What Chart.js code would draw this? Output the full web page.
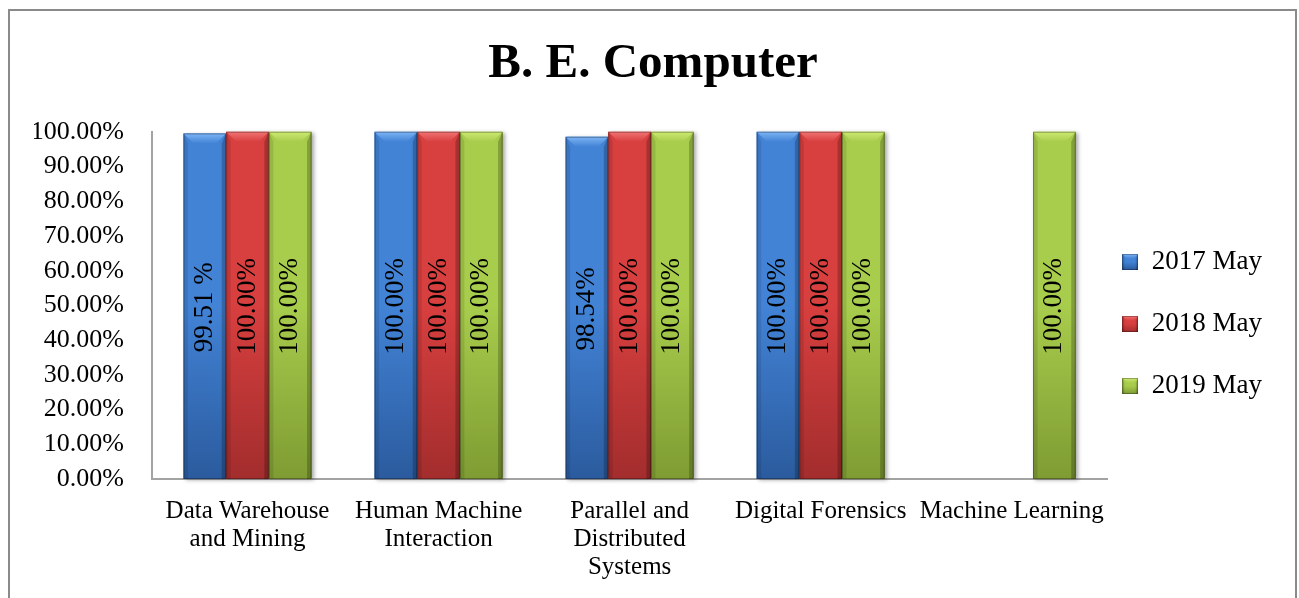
<!DOCTYPE html>
<html>
<head>
<meta charset="utf-8">
<script src="https://cdn.jsdelivr.net/npm/chart.js@4"></script>
<style>
  body { margin: 0; background: #fff; }
</style>
</head>
<body>
<canvas id="chart" width="1299" height="598"></canvas>
<script>
const subjects = [
    ['Data Warehouse', 'and Mining'],
    ['Human Machine', 'Interaction'],
    ['Parallel and', 'Distributed', 'Systems'],
    'Digital Forensics',
    'Machine Learning'
];
const seriesNames = ['2017 May', '2018 May', '2019 May'];

const may2017 = [99.51, 100, 98.54, 100, null];
const may2018 = [100, 100, 100, 100, null];
const may2019 = [100, 100, 100, 100, 100];

// text printed inside the bars
const labels2017 = ['99.51 %', '100.00%', '98.54%', '100.00%', null];
const labels2018 = ['100.00%', '100.00%', '100.00%', '100.00%', null];
const labels2019 = ['100.00%', '100.00%', '100.00%', '100.00%', '100.00%'];

const palette = [
    { main: '#4283d6', light: '#7db4f4', dark: '#2b5b9e' },
    { main: '#d83f3f', light: '#f27474', dark: '#a32d2d' },
    { main: '#a8cc4c', light: '#cdea74', dark: '#7e9c33' }
];

const FONT = "'Liberation Serif', 'Times New Roman', serif";

// 3d-ish bevel like the office chart
function drawBevel(ctx, x, width, top, base, pal, bv, shadow) {
    const l = x - width / 2, r = x + width / 2, t = top, b = base;
    const side = Math.max(2, bv * 0.45);
    ctx.save();
    if (shadow) {
        ctx.shadowColor = 'rgba(0,0,0,0.35)';
        ctx.shadowBlur = 4;
        ctx.shadowOffsetX = 2;
        ctx.shadowOffsetY = 1;
    }
    let g = ctx.createLinearGradient(0, t, 0, b);
    g.addColorStop(0, pal.main);
    g.addColorStop(0.5, pal.main);
    g.addColorStop(1, pal.dark);
    ctx.fillStyle = g;
    ctx.fillRect(l, t, width, b - t);
    ctx.restore();

    ctx.save();
    // left side
    ctx.fillStyle = 'rgba(0,0,0,0.10)';
    ctx.beginPath();
    ctx.moveTo(l, t); ctx.lineTo(l + side, t + bv); ctx.lineTo(l + side, b); ctx.lineTo(l, b);
    ctx.closePath(); ctx.fill();
    // right side
    ctx.fillStyle = 'rgba(0,0,0,0.22)';
    ctx.beginPath();
    ctx.moveTo(r, t); ctx.lineTo(r - side, t + bv); ctx.lineTo(r - side, b); ctx.lineTo(r, b);
    ctx.closePath(); ctx.fill();
    // top
    let g2 = ctx.createLinearGradient(0, t, 0, t + bv);
    g2.addColorStop(0, pal.light);
    g2.addColorStop(1, pal.main);
    ctx.fillStyle = g2;
    ctx.beginPath();
    ctx.moveTo(l, t); ctx.lineTo(r, t); ctx.lineTo(r - bv, t + bv); ctx.lineTo(l + bv, t + bv);
    ctx.closePath(); ctx.fill();
    // outline
    ctx.strokeStyle = 'rgba(0,0,0,0.30)';
    ctx.lineWidth = 1;
    ctx.strokeRect(l + 0.5, t + 0.5, width - 1, b - t - 1);
    ctx.restore();
}

const legendIcons = palette.map(p => {
    const c = document.createElement('canvas');
    c.width = 16; c.height = 16;
    drawBevel(c.getContext('2d'), 8, 16, 0, 16, p, 5, false);
    return c;
});

const frame = {
    id: 'frame',
    beforeDraw(chart) {
        const ctx = chart.ctx;
        ctx.save();
        ctx.fillStyle = '#fff';
        ctx.fillRect(0, 0, chart.width, chart.height);
        ctx.strokeStyle = '#8a8a8a';
        ctx.lineWidth = 2;
        ctx.strokeRect(9, 10, 1287, 700);
        ctx.restore();
    }
};

const barLook = {
    id: 'barLook',
    afterDatasetsDraw(chart) {
        const ctx = chart.ctx;
        const texts = [labels2017, labels2018, labels2019];
        chart.data.datasets.forEach((ds, i) => {
            chart.getDatasetMeta(i).data.forEach((bar, j) => {
                if (ds.data[j] == null) return;
                drawBevel(ctx, bar.x, bar.width, bar.y, bar.base, palette[i], 10, true);
            });
        });
        chart.data.datasets.forEach((ds, i) => {
            chart.getDatasetMeta(i).data.forEach((bar, j) => {
                const txt = texts[i][j];
                if (ds.data[j] == null || !txt) return;
                ctx.save();
                ctx.translate(bar.x, (bar.y + bar.base) / 2 + 1);
                ctx.rotate(-Math.PI / 2);
                ctx.font = '27px ' + FONT;
                ctx.fillStyle = '#000';
                ctx.textAlign = 'center';
                ctx.textBaseline = 'middle';
                ctx.fillText(txt, 0, 0);
                ctx.restore();
            });
        });
    }
};

Chart.defaults.font.family = FONT;
Chart.defaults.color = '#000';

new Chart(document.getElementById('chart'), {
    type: 'bar',
    data: {
        labels: subjects,
        datasets: [
            { label: seriesNames[0], data: may2017, backgroundColor: palette[0].main },
            { label: seriesNames[1], data: may2018, backgroundColor: palette[1].main },
            { label: seriesNames[2], data: may2019, backgroundColor: palette[2].main }
        ]
    },
    options: {
        responsive: false,
        devicePixelRatio: 1,
        animation: false,
        categoryPercentage: 0.67,
        barPercentage: 1,
        layout: { padding: { left: 34, right: 27, top: 0, bottom: 0 } },
        scales: {
            x: {
                grid: { display: false },
                border: { display: true, color: '#a3a3a3', width: 2 },
                ticks: {
                    font: { size: 25, lineHeight: 1.12 },
                    padding: 10,
                    maxRotation: 0,
                    autoSkip: false
                },
                afterFit: s => { s.height = 119; }
            },
            y: {
                min: 0,
                max: 100,
                grid: { display: false },
                border: { display: true, color: '#a3a3a3', width: 2 },
                ticks: {
                    stepSize: 10,
                    font: { size: 26 },
                    padding: 20,
                    callback: v => v.toFixed(2) + '%'
                },
                afterFit: s => { s.width = 118; }
            }
        },
        plugins: {
            title: {
                display: true,
                text: 'B. E. Computer',
                font: { size: 49, weight: 'bold', lineHeight: 1.2 },
                color: '#000',
                padding: { top: 35, bottom: 38 }
            },
            legend: {
                position: 'right',
                fullSize: false,
                title: { display: true, text: '', font: { size: 10, lineHeight: 1 }, padding: { top: 47, bottom: 0 } },
                labels: {
                    usePointStyle: true,
                    pointStyleWidth: 16,
                    boxHeight: 16,
                    padding: 15,
                    font: { size: 27, lineHeight: 1.7407 },
                    generateLabels: chart => chart.data.datasets.map((ds, i) => ({
                        text: [ds.label],
                        fillStyle: palette[i].main,
                        strokeStyle: 'rgba(0,0,0,0)',
                        lineWidth: 0,
                        pointStyle: legendIcons[i],
                        datasetIndex: i,
                        hidden: false
                    }))
                }
            },
            tooltip: { enabled: false }
        }
    },
    plugins: [frame, barLook]
});
</script>
</body>
</html>
